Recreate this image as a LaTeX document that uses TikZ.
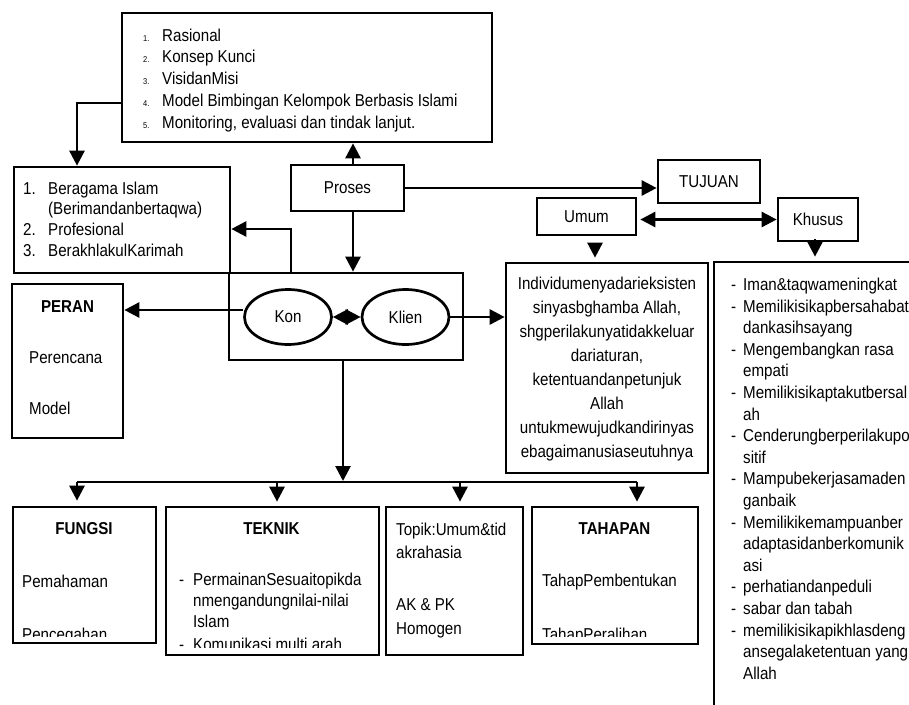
\documentclass[tikz,border=0pt]{standalone}
\usepackage{fontspec}
\setmainfont{Liberation Sans}[FakeStretch=0.88]
\usetikzlibrary{arrows.meta,shapes.geometric,fit}
\begin{document}
\begin{tikzpicture}[x=1pt,y=-1pt,
  font=\fontsize{17.2}{21.5}\selectfont,
  box/.style={draw,line width=2.7pt,inner sep=0pt,rectangle},
  oval/.style={draw,ellipse,line width=2.7pt,inner sep=0pt,minimum width=87pt,minimum height=55pt},
  txt/.style={inner sep=0pt,anchor=base west},
  ctxt/.style={inner sep=0pt,anchor=base},
  small/.style={inner sep=0pt,anchor=base west,font=\fontsize{8.5}{10}\selectfont},
  hd/.style={inner sep=0pt,anchor=base,font=\fontsize{17.2}{21.5}\selectfont\bfseries},
  tip/.style={line width=2.7pt,-{Triangle[length=15pt,width=15pt]}},
  dtip/.style={line width=2.7pt,{Triangle[length=15pt,width=15pt]}-{Triangle[length=15pt,width=15pt]}},
  conn/.style={line width=2.7pt},
]
\path[use as bounding box,fill=white] (0,0) rectangle (909,704);

% ---------- top box ----------
\node[box,fit={(122,13) (492,142)}] (top) {};
\foreach \t [count=\i from 0] in {Rasional, Konsep Kunci, VisidanMisi, Model Bimbingan Kelompok Berbasis Islami, {Monitoring, evaluasi dan tindak lanjut.}} {
  \node[txt] (tt\i) at (162,41+21.75*\i) {\t};
  \node[small] (tn\i) at (143,41+21.75*\i) {\the\numexpr\i+1\relax.};
}

% ---------- goal box ----------
\node[box,fit={(14,167) (230,273)}] (goal) {};
\node[txt] (g1n) at (23,194) {1.};
\node[txt] (g1) at (48,194) {Beragama Islam};
\node[txt] (g1b) at (48,214) {(Berimandanbertaqwa)};
\node[txt] (g2n) at (23,235) {2.};
\node[txt] (g2) at (48,235) {Profesional};
\node[txt] (g3n) at (23,256.5) {3.};
\node[txt] (g3) at (48,256.5) {BerakhlakulKarimah};

% ---------- proses ----------
\node[box,fit={(291,165) (404,211)}] (proses) {};
\node (prosesT) at (proses.center) {Proses};

% ---------- center box ----------
\node[box,fit={(229,273) (463,360)}] (ctr) {};
\node[oval] (kon) at (288,317) {Kon};
\node[oval] (klien) at (405.5,317) {Klien};

% ---------- peran ----------
\node[box,fit={(12,284) (123,438)}] (peran) {};
\node[hd] (peranT) at (67.5,312) {PERAN};
\node[txt] (peran1) at (29,363) {Perencana};
\node[txt] (peran2) at (29,414) {Model};

% ---------- tujuan ----------
\node[box,fit={(658,160) (760,203)}] (tujuan) {};
\node (tujuanT) at (tujuan.center) {TUJUAN};
\node[box,fit={(537,198) (636,235)}] (umum) {};
\node (umumT) at (umum.center) {Umum};
\node[box,fit={(778,198) (858,241)}] (khusus) {};
\node (khususT) at (khusus.center) {Khusus};

% ---------- umum text ----------
\node[box,fit={(506,263) (708,473)}] (utxt) {};
\foreach \t [count=\i from 0] in {Individumenyadarieksisten, {sinyasbghamba Allah,}, shgperilakunyatidakkeluar, {dariaturan,}, ketentuandanpetunjuk, Allah, untukmewujudkandirinyas, ebagaimanusiaseutuhnya} {
  \node[ctxt] (u\i) at (607,289+24.1*\i) {\t};
}

% ---------- khusus list ----------
\node[box,fit={(714,262) (960,760)}] (klist) {};
\foreach \t [count=\i from 0] in {Iman\&taqwameningkat, Memilikisikapbersahabat, dankasihsayang, Mengembangkan rasa, empati, Memilikisikaptakutbersal, ah, Cenderungberperilakupo, sitif, Mampubekerjasamaden, ganbaik, Memilikikemampuanber, adaptasidanberkomunik, asi, perhatiandanpeduli, sabar dan tabah, memilikisikapikhlasdeng, ansegalaketentuan yang, Allah} {
  \node[txt] (k\i) at (743,290.5+21.6*\i) {\t};
}
\foreach \i in {0,1,3,5,7,9,11,14,15,16} {
  \node[txt] (kd\i) at (731,290.5+21.6*\i) {-};
}

% ---------- bottom boxes ----------
\node[box,fit={(13,507) (156,643)}] (fungsi) {};
\node[box,fit={(166,507) (379,655)}] (teknik) {};
\node[box,fit={(386,507) (523,655)}] (topik) {};
\node[box,fit={(532,507) (698,644)}] (tahapan) {};

\node[hd] (fungsiT) at (84,534) {FUNGSI};
\node[txt] (f1) at (22,587) {Pemahaman};
\begin{scope}
  \clip (14,600) rectangle (155,636);
  \node[txt] (f2) at (22,640) {Pencegahan};
\end{scope}

\node[hd] (teknikT) at (271.5,534) {TEKNIK};
\node[txt] (tk1d) at (179,585) {-};
\node[txt] (tk1) at (193,585) {PermainanSesuaitopikda};
\node[txt] (tk2) at (193,606) {nmengandungnilai-nilai};
\node[txt] (tk3) at (193,627) {Islam};
\begin{scope}
  \clip (167,630) rectangle (378,647);
  \node[txt] (tk4d) at (179,650.5) {-};
  \node[txt] (tk4) at (193,650.5) {Komunikasi multi arah};
\end{scope}

\node[txt] (tp1) at (396,535) {Topik:Umum\&tid};
\node[txt] (tp2) at (396,558) {akrahasia};
\node[txt] (tp3) at (396,610) {AK \& PK};
\node[txt] (tp4) at (396,634) {Homogen};

\node[hd] (tahapanT) at (614.5,534) {TAHAPAN};
\node[txt] (th1) at (542,586) {TahapPembentukan};
\begin{scope}
  \clip (533,600) rectangle (697,636);
  \node[txt] (th2) at (542,640) {TahapPeralihan};
\end{scope}

% ---------- connectors ----------
\coordinate (c1) at (77,103);
\draw[tip] (top.west |- c1) -| (goal.north -| c1);
\coordinate (c2) at (353,0);
\draw[tip] (proses.north -| c2) -- (top.south -| c2);
\draw[tip] (proses.south -| c2) -- (ctr.north -| c2);
\coordinate (c3) at (291,229);
\draw[tip] (ctr.north -| c3) |- (goal.east |- c3);
\draw[tip] (proses.east) -- (proses.east -| tujuan.west);
\draw[dtip,shorten <=3pt] (umum.east |- khusus.west) -- (khusus.west);
\draw[tip] ([yshift=7pt]kon.west) -- ([yshift=7pt]kon.west -| peran.east);
\draw[dtip] (kon.east) -- (klien.west);
\draw[tip] (klien.east) -- (klien.east -| utxt.west);
\coordinate (c4) at (595,0);
\draw[tip,shorten <=10pt,shorten >=4pt] (umum.south -| c4) -- (utxt.north -| c4);
\coordinate (c5) at (815,0);
\draw[tip,shorten <=3pt,shorten >=4pt] (khusus.south -| c5) -- (klist.north -| c5);

\coordinate (bus) at (343,482);
\draw[tip,shorten >=1pt] (ctr.south -| bus) -- (bus);
\coordinate (b1) at (77,482);
\coordinate (b2) at (277,482);
\coordinate (b3) at (460,482);
\coordinate (b4) at (637,482);
\draw[conn] (b1) -- (b4);
\draw[tip,shorten >=5pt] (b1) -- (fungsi.north -| b1);
\draw[tip,shorten >=4pt] (b2) -- (teknik.north -| b2);
\draw[tip,shorten >=4pt] (b3) -- (topik.north -| b3);
\draw[tip,shorten >=4pt] (b4) -- (tahapan.north -| b4);
\end{tikzpicture}
\end{document}
